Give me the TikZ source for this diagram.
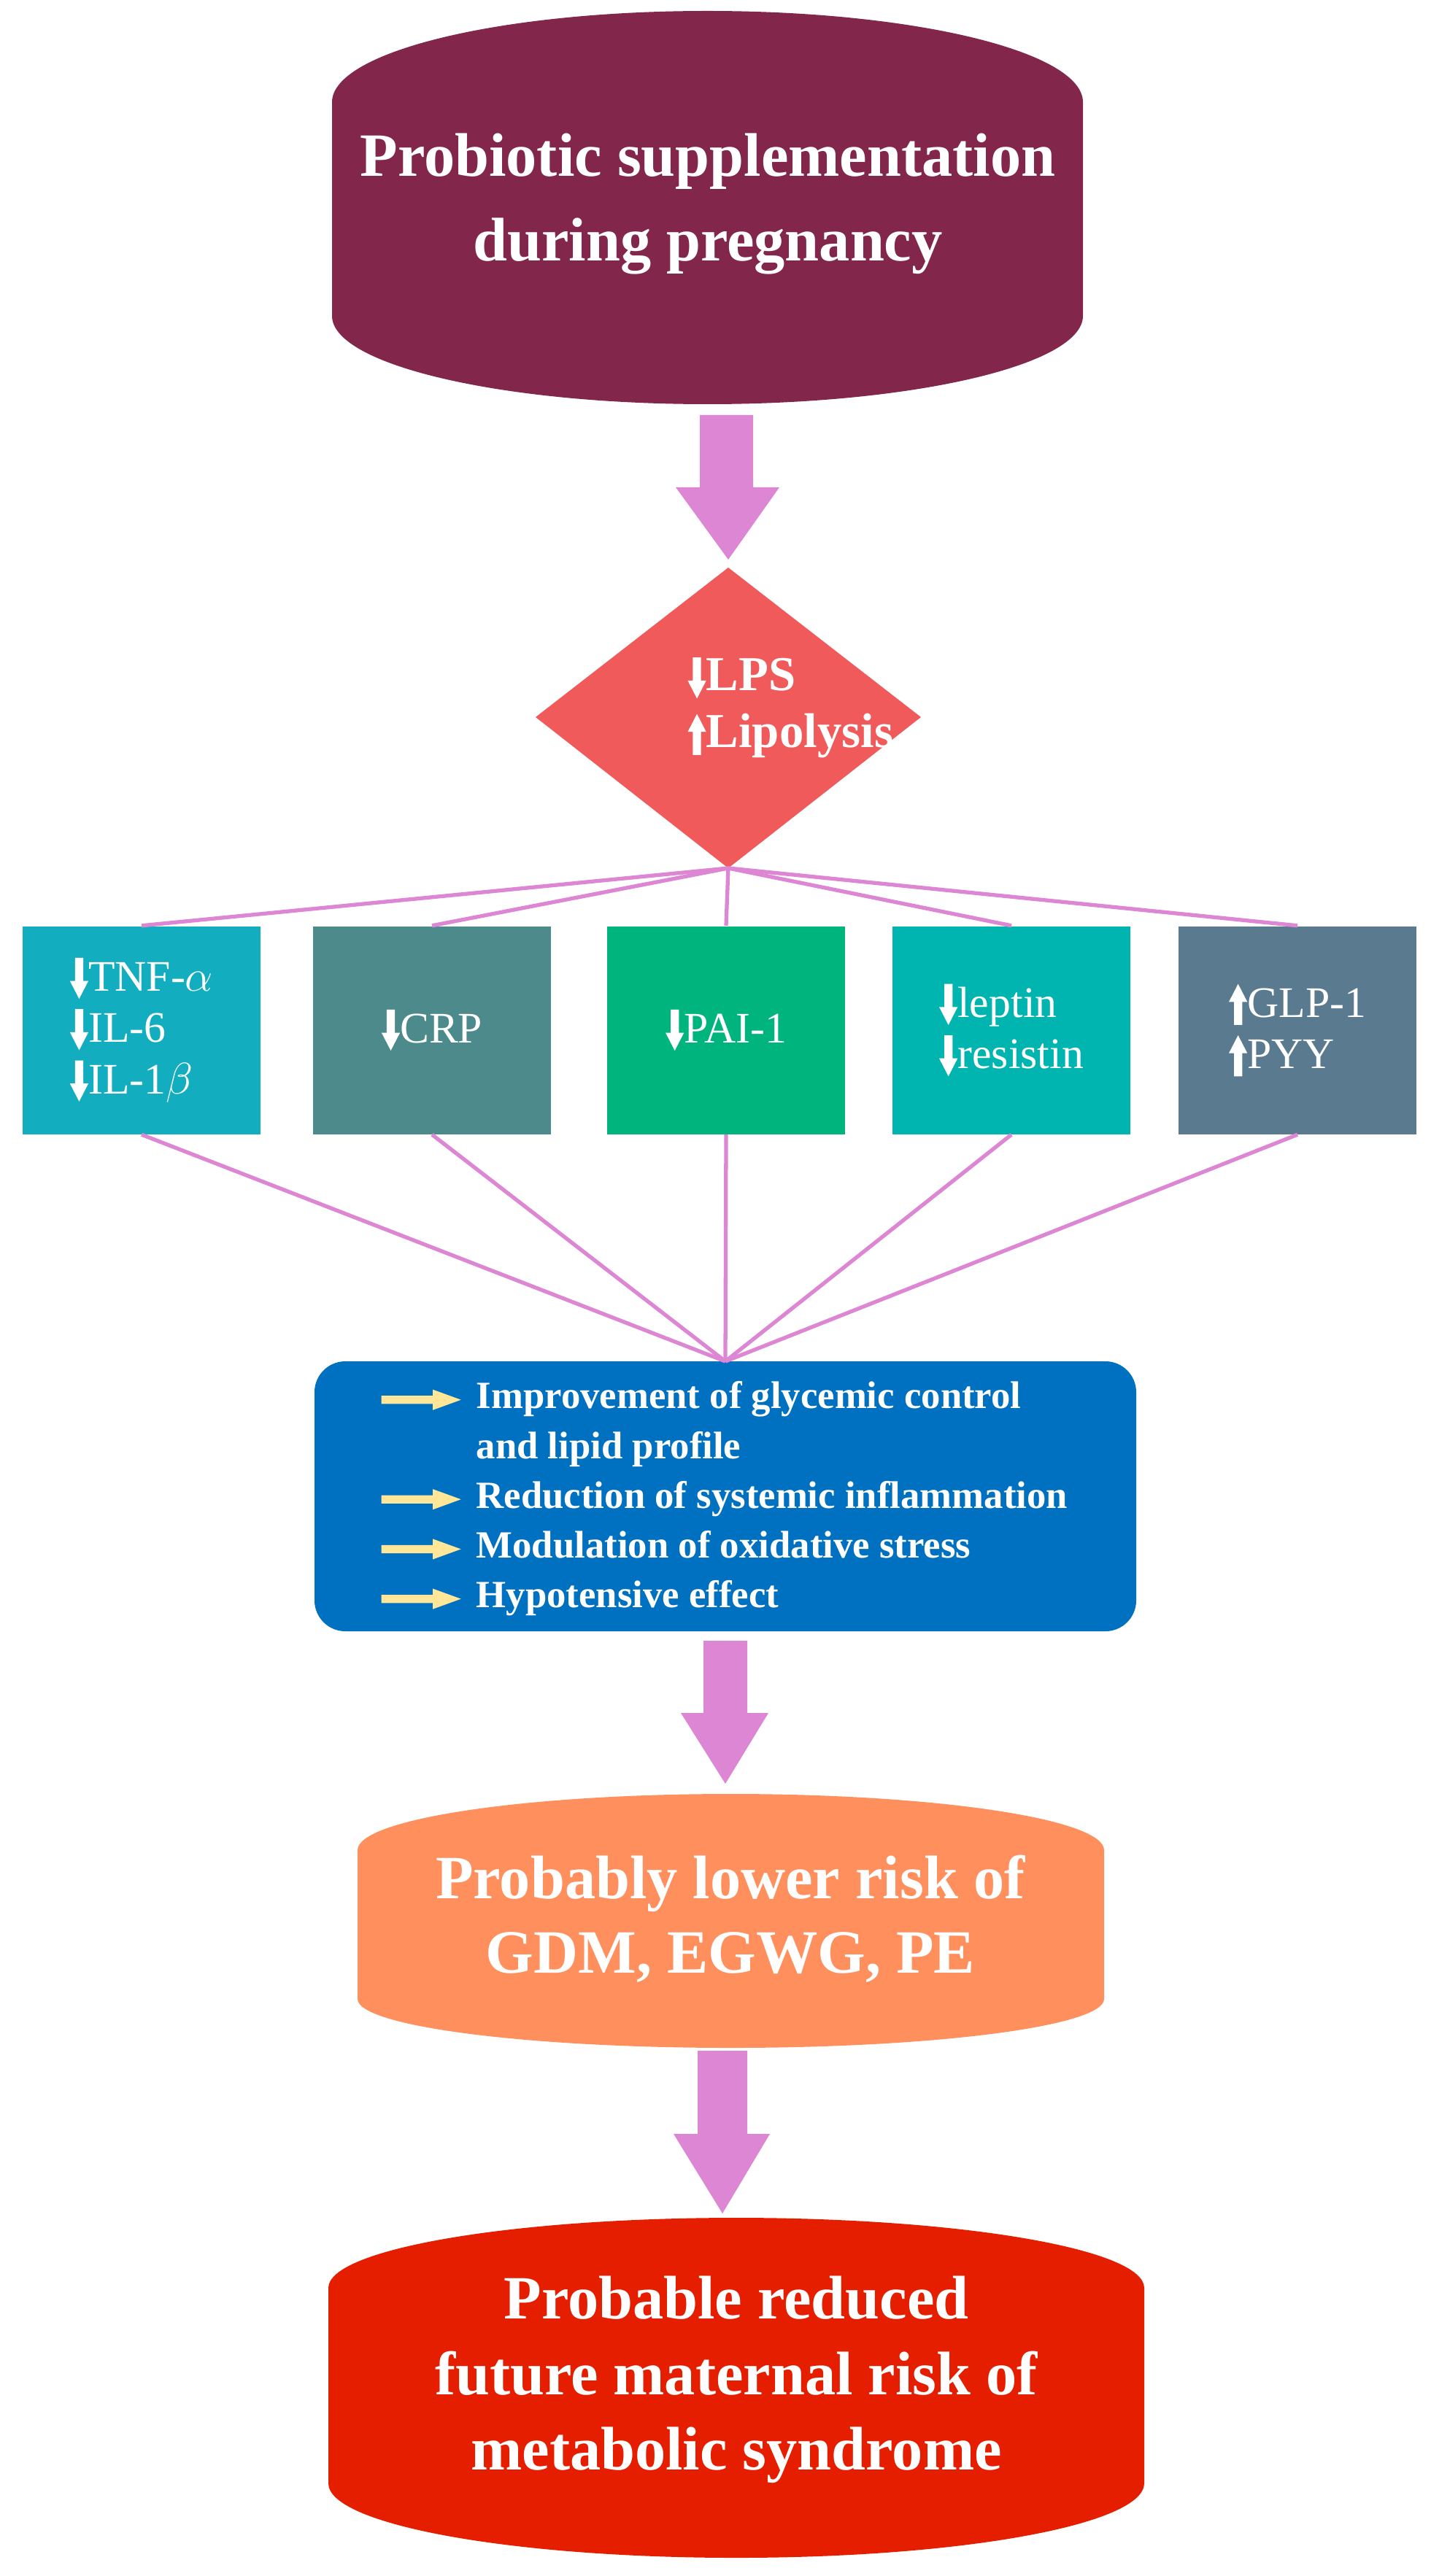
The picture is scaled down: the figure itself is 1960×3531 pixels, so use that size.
\documentclass[tikz,border=0pt]{standalone}
\usepackage{fontspec}
\setmainfont{Liberation Serif}
\usetikzlibrary{shapes.geometric}
\definecolor{maroon}{HTML}{82264B}
\definecolor{pinkA}{HTML}{DC86D4}
\definecolor{diam}{HTML}{F05A5A}
\definecolor{bA}{HTML}{12AEC0}
\definecolor{bB}{HTML}{4D8A8C}
\definecolor{bC}{HTML}{00B47E}
\definecolor{bD}{HTML}{00B4B0}
\definecolor{bE}{HTML}{5A7A90}
\definecolor{blueB}{HTML}{0070C0}
\definecolor{yel}{HTML}{FFE699}
\definecolor{oran}{HTML}{FF8F5C}
\definecolor{redC}{HTML}{E51E00}
\newcommand{\dnar}{\tikz[baseline=0pt]\fill[white] (-1.6pt,13pt)--(1.6pt,13pt)--(1.6pt,4pt)--(3.6pt,4pt)--(0pt,-3pt)--(-3.6pt,4pt)--(-1.6pt,4pt)--cycle;}
\newcommand{\upar}{\tikz[baseline=0pt]\fill[white] (-1.6pt,-3pt)--(1.6pt,-3pt)--(1.6pt,6pt)--(3.6pt,6pt)--(0pt,13pt)--(-3.6pt,6pt)--(-1.6pt,6pt)--cycle;}
\newcommand{\yar}{\tikz[baseline=-0.5ex]\fill[yel] (0pt,-1.6pt)--(20pt,-1.6pt)--(20pt,-4pt)--(31pt,0pt)--(20pt,4pt)--(20pt,1.6pt)--(0pt,1.6pt)--cycle;}
\def\u{*0.01cm}
\tikzset{
  bx/.style={draw=none,minimum width=326\u,minimum height=285\u,inner sep=0pt,text=white,font=\fontsize{17}{20}\selectfont,align=left},
  ln/.style={draw=pinkA,line width=1.5pt},
  bigarrow/.style={fill=pinkA},
}
\begin{document}
\begin{tikzpicture}[x=0.01cm,y=-0.01cm]
\useasboundingbox (0,0) rectangle (1960,3531);
% top cylinder
\fill[maroon] (455,140) arc[start angle=180,end angle=0,x radius=514.5,y radius=-125] -- (1484,433) arc[start angle=0,end angle=-180,x radius=514.5,y radius=-121] -- cycle;
\node[text=white,font=\bfseries\fontsize{24}{33}\selectfont,align=center] (top) at (970,280) {Probiotic supplementation\\during pregnancy};
% arrow 1
\fill[bigarrow] (959,569) -- (1032,569) -- (1032,668) -- (1068,668) -- (998,767) -- (926,668) -- (959,668) -- cycle;
% diamond
\fill[diam] (998,778) -- (1262,983) -- (998,1190) -- (734,983) -- cycle;
\coordinate (dbot) at (998,1190);
\node[text=white,font=\bfseries\fontsize{19}{24}\selectfont,align=left,anchor=west] (lps) at (930,970) {\dnar LPS\\[-2pt]\upar Lipolysis};
% boxes
\node[bx,fill=bA] (b1) at (194,1412) {\dnar TNF-$\alpha$\\\dnar IL-6\\\dnar IL-1$\beta$};
\node[bx,fill=bB] (b2) at (592,1412) {\dnar CRP};
\node[bx,fill=bC] (b3) at (995,1412) {\dnar PAI-1};
\node[bx,fill=bD] (b4) at (1386,1412) {\dnar leptin\\\dnar resistin};
\node[bx,fill=bE] (b5) at (1778,1412) {\upar GLP-1\\\upar PYY};
% blue box
\node[fill=blueB,rounded corners=12pt,minimum width=1126\u,minimum height=370\u,inner sep=0pt] (blue) at (994,2051) {};
\coordinate (conv) at (994,1866);
\foreach \b in {b1,b2,b3,b4,b5}{
  \draw[ln] (dbot) -- (\b.north);
  \draw[ln] (\b.south) -- (conv);
}
\node[anchor=north west,text=white,font=\bfseries\fontsize{15}{19.4}\selectfont,align=left,inner sep=0pt] (list) at (522,1893) {%
\yar\hspace{6pt}Improvement of glycemic control\\
\hphantom{\yar\hspace{6pt}}and lipid profile\\
\yar\hspace{6pt}Reduction of systemic inflammation\\
\yar\hspace{6pt}Modulation of oxidative stress\\
\yar\hspace{6pt}Hypotensive effect};
% arrow 2
\fill[bigarrow] (964,2249) -- (1024,2249) -- (1024,2348) -- (1053,2348) -- (994,2445) -- (933,2348) -- (964,2348) -- cycle;
% orange
\fill[oran] (490,2536) arc[start angle=180,end angle=0,x radius=511.5,y radius=-77] -- (1513,2740) arc[start angle=0,end angle=-180,x radius=511.5,y radius=-67] -- cycle;
\node[text=white,font=\bfseries\fontsize{24}{29}\selectfont,align=center] (or) at (1001,2630) {Probably lower risk of\\GDM, EGWG, PE};
% arrow 3
\fill[bigarrow] (956,2811) -- (1024,2811) -- (1024,2925) -- (1055,2925) -- (990,3034) -- (923,2925) -- (956,2925) -- cycle;
% red
\fill[redC] (450,3136) arc[start angle=180,end angle=0,x radius=559,y radius=-96] -- (1568,3404) arc[start angle=0,end angle=-180,x radius=559,y radius=-102] -- cycle;
\node[text=white,font=\bfseries\fontsize{24}{29.5}\selectfont,align=center] (rd) at (1009,3262) {Probable reduced\\future maternal risk of\\metabolic syndrome};
\end{tikzpicture}
\end{document}
